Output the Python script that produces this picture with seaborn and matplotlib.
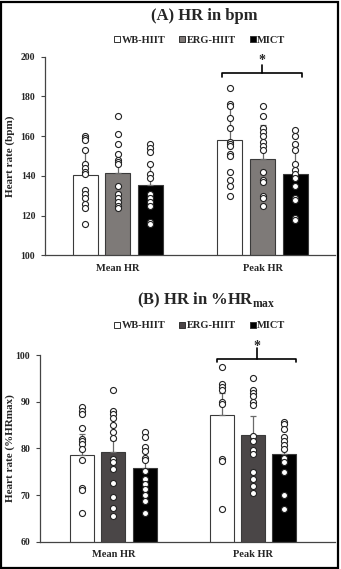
import numpy as np
import pandas as pd
import seaborn as sns
import matplotlib
matplotlib.use("Agg")
import matplotlib.pyplot as plt
from matplotlib.patches import Rectangle
from matplotlib.lines import Line2D

sns.set_theme(style="white")
plt.rcParams['font.family'] = ['Liberation Serif', 'DejaVu Serif']
plt.rcParams['font.weight'] = 'bold'

groups = ["WB-HIIT", "ERG-HIIT", "MICT"]
measures = ["Mean HR", "Peak HR"]

# ---- Panel A: HR in bpm ----
a_bar_mean = [140.3, 141.3, 135.2]   # Mean HR per group
a_bar_peak = [158.3, 148.6, 141.0]   # Peak HR per group
a_sd_mean = [13, 10, 11]
a_sd_peak = [17, 17, 14]
a_wb_mean = [160, 159, 158, 153, 146, 144, 142, 141, 133, 131, 129, 126, 124, 116]
a_erg_mean = [170, 161, 156, 151, 148, 147, 146, 135, 131, 129, 127, 125, 124]
a_mict_mean = [156, 154, 152, 146, 141, 139, 131, 129, 127, 125, 117, 116]
a_wb_peak = [184, 176, 175, 169, 164, 157, 156, 155, 151, 150, 142, 138, 135, 130]
a_erg_peak = [175, 170, 164, 162, 160, 157, 155, 153, 142, 138, 137, 130, 129, 125]
a_mict_peak = [163, 160, 156, 153, 146, 143, 141, 139, 135, 129, 128, 119, 118]
a_yticks = [100, 120, 140, 160, 180, 200]

# ---- Panel B: HR in %HRmax ----
b_bar_mean = [78.5, 79.3, 75.8]
b_bar_peak = [87.2, 82.9, 78.7]
b_sd_mean = [4.5, 2.5, 2.0]
b_sd_peak = [4.6, 4.1, 3.0]
b_wb_mean = [88.8, 88.0, 87.3, 84.3, 82.1, 81.6, 80.9, 79.8, 77.5, 71.6, 71.0, 66.1]
b_erg_mean = [92.5, 88.0, 87.3, 86.5, 85.0, 83.5, 82.2, 77.8, 77.1, 75.5, 72.5, 69.6, 67.3, 65.6]
b_mict_mean = [83.5, 82.5, 80.2, 79.5, 78.0, 77.5, 75.2, 73.4, 72.4, 71.2, 70.0, 68.8, 66.1]
b_wb_peak = [97.4, 93.8, 93.2, 92.6, 89.9, 89.4, 77.8, 77.3, 67.1]
b_erg_peak = [95.0, 92.5, 91.9, 91.2, 90.0, 89.3, 82.6, 81.6, 79.6, 78.8, 75.0, 73.4, 71.9, 70.5]
b_mict_peak = [85.7, 85.2, 84.1, 82.4, 81.6, 80.7, 79.8, 77.9, 77.0, 75.0, 70.0, 66.9]
b_yticks = [60, 70, 80, 90, 100]

W, H = 341, 569
fig = plt.figure(figsize=(W / 100, H / 100), dpi=100)
fig.patch.set_facecolor("white")


def panel(rect, xlim, ylim, yticks, bar_mean, bar_peak, sd_mean, sd_peak,
          pts, palette, ylabel, ylabel_x, title, title_xy, legend_y,
          br_off, br_y, br_end, br_top, star_y):
    ax = fig.add_axes(rect)
    bars = pd.DataFrame({
        "measure": [m for g in groups for m in measures],
        "group": [g for g in groups for m in measures],
        "value": [v for pair in zip(bar_mean, bar_peak) for v in pair],
    })
    sns.barplot(data=bars, x="measure", y="value", hue="group",
                hue_order=groups, order=measures, palette=palette,
                width=0.675, gap=0.233, errorbar=None, edgecolor="#3a3a3a",
                linewidth=0.8, legend=False, ax=ax, zorder=2)
    sds = [s for pair in zip(sd_mean, sd_peak) for s in pair]
    centers = {}
    i = 0
    for gi, g in enumerate(groups):
        for mi, m in enumerate(measures):
            p = ax.patches[i]
            cx = p.get_x() + p.get_width() / 2
            centers[(g, m)] = cx
            top = p.get_height()
            ax.errorbar([cx], [top], yerr=[[0], [sds[i]]], color="#6a6a6a",
                        lw=0.9, capsize=2, capthick=0.9, zorder=2.5)
            vals = pts[(g, m)]
            ax.scatter([cx] * len(vals), vals, s=19, facecolor="white",
                       edgecolor="#222222", linewidth=0.8, zorder=3)
            i += 1
    ax.set_xlim(*xlim)
    ax.set_ylim(*ylim)
    ax.set_yticks(yticks)
    ax.set_yticklabels([str(t) for t in yticks], fontsize=7, fontweight="bold")
    ax.set_xticks([0, 1])
    ax.set_xticklabels(measures, fontsize=7.5, fontweight="bold")
    ax.tick_params(axis="x", length=0, pad=6)
    ax.tick_params(axis="y", length=3, width=0.8, color="#444444", pad=4,
                   left=True, direction="out")
    ax.set_xlabel("")
    ax.set_ylabel(ylabel, fontsize=8, fontweight="bold")
    ax.yaxis.set_label_coords(ylabel_x, 0.5)
    for s in ["top", "right"]:
        ax.spines[s].set_visible(False)
    for s in ["left", "bottom"]:
        ax.spines[s].set_color("#444444")
        ax.spines[s].set_linewidth(0.9)
    ax.grid(False)
    # significance bracket over Peak HR
    x0 = centers[("WB-HIIT", "Peak HR")] + br_off[0]
    x1 = centers[("MICT", "Peak HR")] + br_off[1]
    xc = (x0 + x1) / 2
    ax.plot([x0, x0, x1, x1], [br_end, br_y, br_y, br_end], color="black",
            lw=1.2, clip_on=False, zorder=4)
    ax.plot([xc, xc], [br_y, br_top], color="black", lw=1.2, clip_on=False,
            zorder=4)
    ax.text(xc, star_y, "*", ha="center", va="center", fontsize=10,
            fontweight="bold", clip_on=False)
    # legend
    handles = [Line2D([], [], ls="none", marker="s", markersize=4.2,
                      markerfacecolor=palette[g], markeredgecolor="#333333",
                      markeredgewidth=0.7) for g in groups]
    ax.legend(handles, groups, ncol=3, loc="center",
              bbox_to_anchor=(legend_y[0], legend_y[1]), frameon=False,
              handlelength=0.5, handletextpad=0.15, columnspacing=1.4,
              borderpad=0, prop={"weight": "bold", "size": 7.5})
    fig.text(title_xy[0], title_xy[1], title, ha="center", va="center",
             fontsize=12, fontweight="bold")
    return ax


pal_a = {"WB-HIIT": "white", "ERG-HIIT": "#7f7977", "MICT": "black"}
pal_b = {"WB-HIIT": "white", "ERG-HIIT": "#4b4547", "MICT": "black"}

pts_a = {("WB-HIIT", "Mean HR"): a_wb_mean, ("ERG-HIIT", "Mean HR"): a_erg_mean,
         ("MICT", "Mean HR"): a_mict_mean, ("WB-HIIT", "Peak HR"): a_wb_peak,
         ("ERG-HIIT", "Peak HR"): a_erg_peak, ("MICT", "Peak HR"): a_mict_peak}
pts_b = {("WB-HIIT", "Mean HR"): b_wb_mean, ("ERG-HIIT", "Mean HR"): b_erg_mean,
         ("MICT", "Mean HR"): b_mict_mean, ("WB-HIIT", "Peak HR"): b_wb_peak,
         ("ERG-HIIT", "Peak HR"): b_erg_peak, ("MICT", "Peak HR"): b_mict_peak}

panel([45 / W, 1 - 255.3 / H, 290 / W, 198.6 / H], (-0.502, 1.5), (100, 200),
      a_yticks, a_bar_mean, a_bar_peak, a_sd_mean, a_sd_peak, pts_a, pal_a,
      "Heart rate (bpm)", (15.5 - 45) / 290, "(A) HR in bpm", (204 / W, 1 - 16 / H),
      ((200 - 45) / 290, 1 + 16.7 / 198.6), (-0.052, 0.045),
      191.8, 189.6, 196.0, 198.0)

panel([40 / W, 1 - 541.7 / H, 295 / W, 186.7 / H], (-0.525, 1.587), (60, 100),
      b_yticks, b_bar_mean, b_bar_peak, b_sd_mean, b_sd_peak, pts_b, pal_b,
      "Heart rate (%HRmax)", (15.5 - 40) / 295, r"(B) HR in %HR$_{\mathregular{max}}$",
      (206 / W, 1 - 300 / H), ((200 - 40) / 295, 1 + 29.3 / 186.7),
      (-0.03, 0.085), 99.1, 98.4, 101.4, 101.9)

fig.patches.append(Rectangle((0.003, 0.002), 0.989, 0.995, transform=fig.transFigure,
                             fill=False, edgecolor="black", linewidth=1.6))

fig.savefig("out.png", dpi=100, facecolor="white")
